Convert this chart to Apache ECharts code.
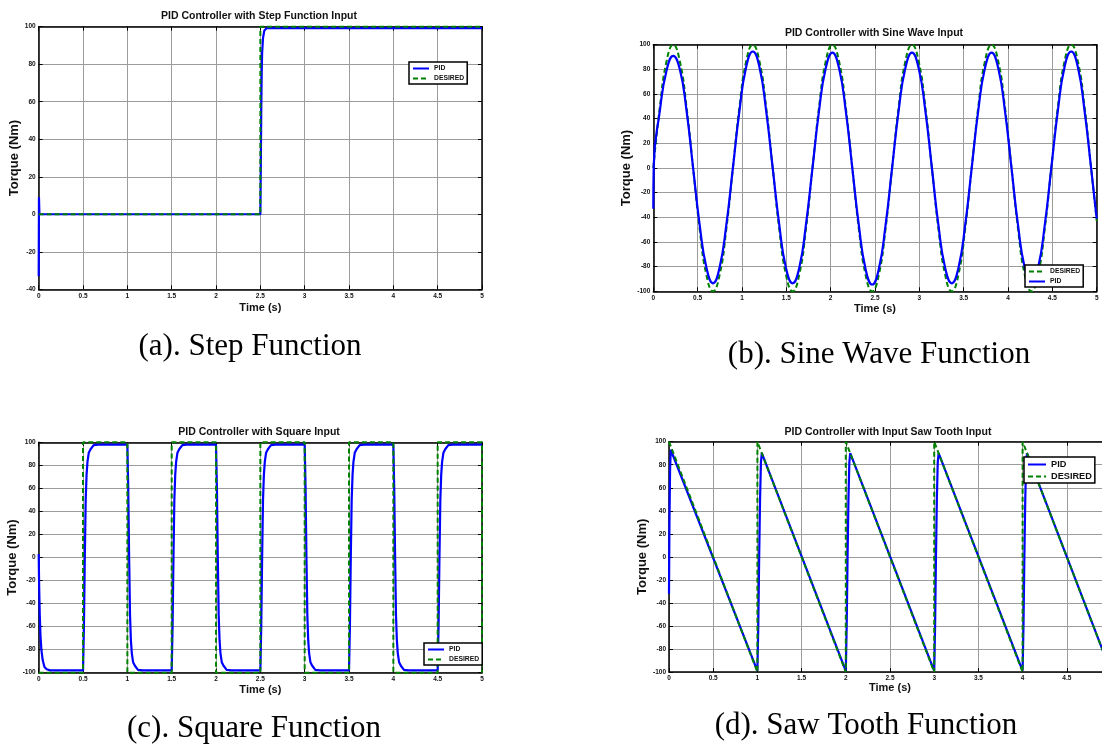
<!DOCTYPE html>
<html><head><meta charset="utf-8">
<script src="https://cdn.jsdelivr.net/npm/echarts@6/dist/echarts.min.js"></script>
<style>html,body{margin:0;padding:0;background:#fff}#c{width:1102px;height:751px}</style>
</head><body><div id="c"></div>
<script>
// ---------- DATA ----------
const xTicks = [0, 0.5, 1, 1.5, 2, 2.5, 3, 3.5, 4, 4.5, 5];

// (a) Step
const stepTime = [0, 2.5, 2.5, 5];
const stepDesired = [0, 0, 100, 100];
const stepPidTime = [0, 0.003, 0.008, 2.5, 2.505, 2.51, 2.515, 2.52, 2.53, 2.545, 2.57, 5];
const stepPid = [-33, 9, 0, 0, 25, 55, 75, 86, 94, 98, 99.2, 99.2];

// (b) Sine
const sineTime = [0, 0.0748, 0.1496, 0.2244, 0.2992, 0.374, 0.4488, 0.5236, 0.5984, 0.6732, 0.748, 0.8228,
  0.8976, 0.9724, 1.0472, 1.122, 1.1968, 1.2716, 1.3464, 1.4212, 1.496, 1.5708, 1.6456, 1.7204,
  1.7952, 1.87, 1.9448, 2.0196, 2.0944, 2.1692, 2.244, 2.3188, 2.3936, 2.4684, 2.5432, 2.618,
  2.6928, 2.7676, 2.8424, 2.9172, 2.992, 3.0668, 3.1416, 3.2164, 3.2912, 3.366, 3.4408, 3.5156,
  3.5904, 3.6652, 3.74, 3.8148, 3.8896, 3.9644, 4.0392, 4.114, 4.1888, 4.2636, 4.3384, 4.4132,
  4.488, 4.5628, 4.6376, 4.7124, 4.7872, 4.862, 4.9368, 5];
const sineDesired = [0, 50, 86.6, 100, 86.6, 50, 0, -50, -86.6, -100, -86.6, -50,
  0, 50, 86.6, 100, 86.6, 50, 0, -50, -86.6, -100, -86.6, -50,
  0, 50, 86.6, 100, 86.6, 50, 0, -50, -86.6, -100, -86.6, -50,
  0, 50, 86.6, 100, 86.6, 50, 0, -50, -86.6, -100, -86.6, -50,
  0, 50, 86.6, 100, 86.6, 50, 0, -50, -86.6, -100, -86.6, -50,
  0, 50, 86.6, 100, 86.6, 50, 0, -42.8];
const sinePidTime = [0, 0.005, 0.0748, 0.1496, 0.2244, 0.2992, 0.374, 0.4488, 0.5236, 0.5984, 0.6732, 0.748, 0.8228,
  0.8976, 0.9724, 1.0472, 1.122, 1.1968, 1.2716, 1.3464, 1.4212, 1.496, 1.5708, 1.6456, 1.7204,
  1.7952, 1.87, 1.9448, 2.0196, 2.0944, 2.1692, 2.244, 2.3188, 2.3936, 2.4684, 2.5432, 2.618,
  2.6928, 2.7676, 2.8424, 2.9172, 2.992, 3.0668, 3.1416, 3.2164, 3.2912, 3.366, 3.4408, 3.5156,
  3.5904, 3.6652, 3.74, 3.8148, 3.8896, 3.9644, 4.0392, 4.114, 4.1888, 4.2636, 4.3384, 4.4132,
  4.488, 4.5628, 4.6376, 4.7124, 4.7872, 4.862, 4.9368, 5];
const sinePid = [-33, 2, 47, 79, 91, 80, 47, 0, -46.5, -80.5, -93.5, -80.5, -46.5,
  0, 47, 82, 94.5, 82, 47, 0, -46.5, -81, -93.5, -81, -46.5,
  0, 47, 81, 93.5, 81, 47, 0, -47, -82, -94.5, -82, -47,
  0, 47, 81, 93.5, 81, 47, 0, -47, -81, -93.5, -81, -47,
  0, 47, 81, 93.5, 81, 47, 0, -47, -81, -93.5, -81, -47,
  0, 47, 82, 94.5, 82, 47, 0, -41];

// (c) Square
const sqTime = [0, 0.5, 0.5, 1, 1, 1.5, 1.5, 2, 2, 2.5, 2.5, 3, 3, 3.5, 3.5, 4, 4, 4.5, 4.5, 5, 5];
const sqDesired = [-100, -100, 100, 100, -100, -100, 100, 100, -100, -100, 100, 100, -100, -100, 100, 100, -100, -100, 100, 100, -100];
const sqPidTime = [0, 0.005, 0.012, 0.02, 0.03, 0.045, 0.065, 0.09, 0.13,
  0.5, 0.51, 0.52, 0.53, 0.54, 0.55, 0.565, 0.585, 0.62, 0.67,
  1, 1.01, 1.02, 1.03, 1.04, 1.05, 1.065, 1.085, 1.12, 1.17,
  1.5, 1.51, 1.52, 1.53, 1.54, 1.55, 1.565, 1.585, 1.62, 1.67,
  2, 2.01, 2.02, 2.03, 2.04, 2.05, 2.065, 2.085, 2.12, 2.17,
  2.5, 2.51, 2.52, 2.53, 2.54, 2.55, 2.565, 2.585, 2.62, 2.67,
  3, 3.01, 3.02, 3.03, 3.04, 3.05, 3.065, 3.085, 3.12, 3.17,
  3.5, 3.51, 3.52, 3.53, 3.54, 3.55, 3.565, 3.585, 3.62, 3.67,
  4, 4.01, 4.02, 4.03, 4.04, 4.05, 4.065, 4.085, 4.12, 4.17,
  4.5, 4.51, 4.52, 4.53, 4.54, 4.55, 4.565, 4.585, 4.62, 4.67,
  5];
const sqPid = [3, -25, -50, -68, -80, -89, -95, -97, -98,
  -98, -60, 0, 50, 72, 83, 91, 94, 97.5, 98,
  98, 60, 0, -50, -72, -83, -91, -94, -97.5, -98,
  -98, -60, 0, 50, 72, 83, 91, 94, 97.5, 98,
  98, 60, 0, -50, -72, -83, -91, -94, -97.5, -98,
  -98, -60, 0, 50, 72, 83, 91, 94, 97.5, 98,
  98, 60, 0, -50, -72, -83, -91, -94, -97.5, -98,
  -98, -60, 0, 50, 72, 83, 91, 94, 97.5, 98,
  98, 60, 0, -50, -72, -83, -91, -94, -97.5, -98,
  -98, -60, 0, 50, 72, 83, 91, 94, 97.5, 98,
  98];

// (d) Saw tooth
const sawTime = [0, 1, 1, 2, 2, 3, 3, 4, 4, 5];
const sawDesired = [100, -100, 100, -100, 100, -100, 100, -100, 100, -100];
const sawPidTime = [0, 0.005, 0.012, 0.02, 0.027,
  1, 1.01, 1.02, 1.03, 1.04, 1.05,
  2, 2.01, 2.02, 2.03, 2.04, 2.05,
  3, 3.01, 3.02, 3.03, 3.04, 3.05,
  4, 4.01, 4.02, 4.03, 4.04, 4.05, 5];
const sawPid = [-32, 30, 75, 93, 94.6,
  -99, -60, 0, 50, 82, 90,
  -99, -60, 0, 50, 82, 90,
  -99, -60, 0, 50, 82, 90,
  -99, -60, 0, 50, 82, 90, -100];

const titles = ['PID Controller with Step Function Input', 'PID Controller with Sine Wave Input',
  'PID Controller with Square Input', 'PID Controller with Input Saw Tooth Input'];
const captions = ['(a). Step Function', '(b). Sine Wave Function', '(c). Square Function', '(d). Saw Tooth Function'];
const legendOrders = [['PID', 'DESIRED'], ['DESIRED', 'PID'], ['PID', 'DESIRED'], ['PID', 'DESIRED']];

// ---------- LAYOUT / STYLE ----------
const SANS = '"Liberation Sans", Arial, sans-serif';
const SERIF = '"Liberation Serif", "Times New Roman", serif';
const panels = [
  {left: 38.7, top: 26.7, width: 443.3, height: 262.6, ymin: -40, ymax: 100, yGap: 13, xGap: 13,
   tx: 259, ty: 16, cx: 250, cy: 347, lg: {left: 409, top: 62, fs: 6.8, iw: 16, ih: 8}},
  {left: 653.3, top: 44.7, width: 443.4, height: 246.6, ymin: -100, ymax: 100, yGap: 17, xGap: 12,
   tx: 874, ty: 33, cx: 879, cy: 355, lg: {left: 1025, top: 265, fs: 6.8, iw: 16, ih: 8}},
  {left: 38.7, top: 442.3, width: 443.3, height: 230.4, ymin: -100, ymax: 100, yGap: 18, xGap: 12,
   tx: 259, ty: 432, cx: 254, cy: 729, lg: {left: 424, top: 643, fs: 6.8, iw: 16, ih: 8}},
  {left: 669, top: 441.7, width: 442, height: 230.3, ymin: -100, ymax: 100, yGap: 18, xGap: 10,
   tx: 888, ty: 432, cx: 866, cy: 726, lg: {left: 1024, top: 457, fs: 9.2, iw: 18, ih: 10}}
];
const BLUE = '#0000ff', GREEN = '#008000';
const pairs = (t, v) => t.map((x, i) => [x, v[i]]);
const seriesData = [
  {pid: pairs(stepPidTime, stepPid), des: pairs(stepTime, stepDesired), smooth: false, pidOnTop: false},
  {pid: pairs(sinePidTime, sinePid), des: pairs(sineTime, sineDesired), smooth: true, pidOnTop: true},
  {pid: pairs(sqPidTime, sqPid), des: pairs(sqTime, sqDesired), smooth: false, pidOnTop: false},
  {pid: pairs(sawPidTime, sawPid), des: pairs(sawTime, sawDesired), smooth: false, pidOnTop: false}
];

const grid = [], xAxis = [], yAxis = [], series = [], legend = [], graphic = [];
const labelStyle = {fontSize: 6.5, fontWeight: 'bold', fontFamily: SANS, color: '#111', margin: 3};
const axLine = {show: true, onZero: false, lineStyle: {color: '#000', width: 1.5}};
const axTick = {show: true, inside: true, length: 4, lineStyle: {color: '#000', width: 1}};
const split = {show: true, lineStyle: {color: '#9c9c9c', width: 1}};
const nameStyle = (fs) => ({fontSize: fs, fontWeight: 'bold', fontFamily: SANS, color: '#111'});

panels.forEach((p, i) => {
  grid.push({left: p.left, top: p.top, width: p.width, height: p.height, outerBoundsMode: 'none', containLabel: false});
  xAxis.push({type: 'value', gridIndex: i, min: xTicks[0], max: xTicks[xTicks.length - 1], interval: 0.5, position: 'bottom',
    axisLine: axLine, axisTick: axTick, splitLine: split, axisLabel: labelStyle,
    name: 'Time (s)', nameLocation: 'middle', nameGap: p.xGap, nameTextStyle: nameStyle(11)});
  xAxis.push({type: 'value', gridIndex: i, min: 0, max: 5, interval: 0.5, position: 'top',
    axisLine: axLine, axisTick: axTick, splitLine: {show: false}, axisLabel: {show: false}});
  yAxis.push({type: 'value', gridIndex: i, min: p.ymin, max: p.ymax, interval: 20, position: 'left',
    axisLine: axLine, axisTick: axTick, splitLine: split, axisLabel: labelStyle,
    name: 'Torque (Nm)', nameLocation: 'middle', nameGap: p.yGap, nameTextStyle: nameStyle(13)});
  yAxis.push({type: 'value', gridIndex: i, min: p.ymin, max: p.ymax, interval: 20, position: 'right',
    axisLine: axLine, axisTick: axTick, splitLine: {show: false}, axisLabel: {show: false}});

  const d = seriesData[i];
  const pidS = {type: 'line', name: 'PID', xAxisIndex: 2 * i, yAxisIndex: 2 * i, data: d.pid,
    symbol: 'none', showSymbol: false, smooth: d.smooth, clip: false, silent: true, animation: false,
    lineStyle: {color: BLUE, width: 2.2}, itemStyle: {color: BLUE}};
  const desS = {type: 'line', name: 'DESIRED', xAxisIndex: 2 * i, yAxisIndex: 2 * i, data: d.des,
    symbol: 'none', showSymbol: false, smooth: d.smooth, clip: false, silent: true, animation: false,
    lineStyle: {color: GREEN, width: 2, type: [5, 3]}, itemStyle: {color: GREEN}};
  if (d.pidOnTop) { series.push(desS, pidS); } else { series.push(pidS, desS); }

  legend.push({orient: 'vertical', left: p.lg.left, top: p.lg.top, data: legendOrders[i], selectedMode: false,
    backgroundColor: '#fff', borderColor: '#000', borderWidth: 1.5, borderRadius: 0,
    padding: [3, 3, 2, 3], itemGap: 3, itemWidth: p.lg.iw, itemHeight: p.lg.ih, z: 10,
    itemStyle: {opacity: 0}, lineStyle: {width: 2},
    textStyle: {fontSize: p.lg.fs, fontWeight: 'bold', fontFamily: SANS, color: '#111'}});

  graphic.push({type: 'text', x: p.tx, y: p.ty, z: 10,
    style: {text: titles[i], align: 'center', verticalAlign: 'middle', fill: '#111',
      font: 'bold 10.5px ' + SANS}});
  graphic.push({type: 'text', x: p.cx, y: p.cy, z: 10,
    style: {text: captions[i], align: 'center', verticalAlign: 'middle', fill: '#000',
      font: '31px ' + SERIF}});
});

const chart = echarts.init(document.getElementById('c'), null, {renderer: 'canvas'});
chart.setOption({
  backgroundColor: '#fff',
  animation: false,
  grid, xAxis, yAxis, series, legend, graphic
});
</script>
</body></html>
